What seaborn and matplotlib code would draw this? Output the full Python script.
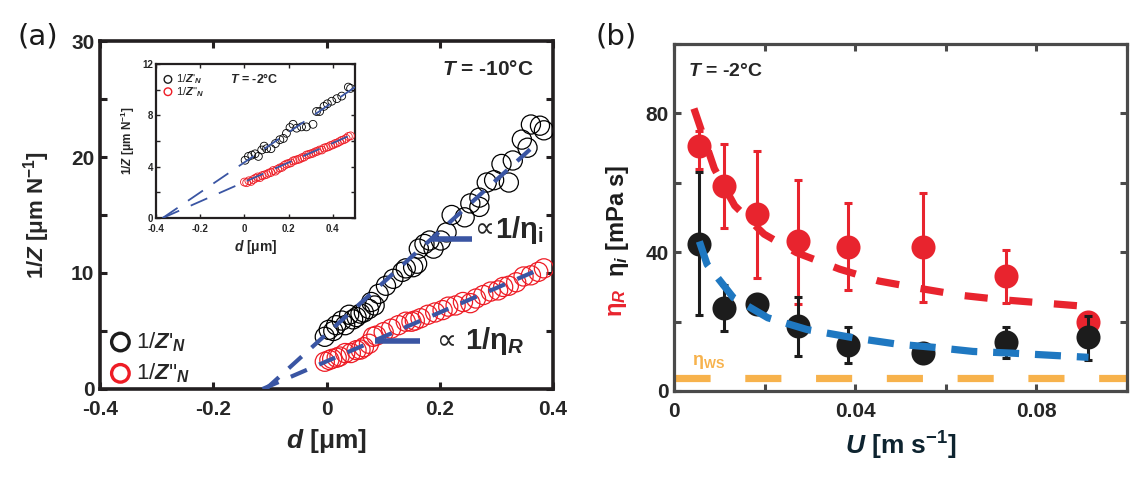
import numpy as np
import pandas as pd
import matplotlib
matplotlib.use("Agg")
import matplotlib.pyplot as plt
from matplotlib.ticker import FixedLocator, FuncFormatter
import seaborn as sns

# ---------------- data: panel (a) main, T = -10 C ----------------
d_black = [-0.003, 0.004, 0.012, 0.017, 0.027, 0.033, 0.040, 0.047, 0.053, 0.060, 0.066, 0.075,
           0.079, 0.085, 0.092, 0.105, 0.118, 0.134, 0.140, 0.153, 0.160, 0.163, 0.173, 0.182,
           0.189, 0.202, 0.212, 0.221, 0.244, 0.254, 0.270, 0.270, 0.283, 0.296, 0.309, 0.322,
           0.329, 0.345, 0.355, 0.361, 0.377, 0.384]
z_black = [4.5, 5.1, 5.0, 5.5, 5.9, 5.5, 6.4, 6.0, 6.2, 6.5, 6.6, 6.9,
           7.5, 7.2, 8.2, 8.9, 9.5, 10.1, 10.4, 10.5, 10.8, 12.1, 12.5, 12.8,
           12.1, 12.8, 13.5, 15.0, 14.8, 16.0, 15.7, 16.5, 17.8, 18.0, 19.4, 17.8,
           19.7, 21.5, 20.8, 22.8, 22.7, 22.3]
d_red = [-0.003, 0.005, 0.010, 0.018, 0.023, 0.033, 0.043, 0.053, 0.060, 0.066, 0.075, 0.082,
         0.088, 0.101, 0.114, 0.127, 0.140, 0.150, 0.156, 0.166, 0.179, 0.192, 0.205, 0.215,
         0.228, 0.241, 0.254, 0.264, 0.277, 0.290, 0.303, 0.312, 0.322, 0.335, 0.348, 0.361,
         0.374, 0.384]
z_red = [2.35, 2.5, 2.6, 2.7, 2.8, 3.1, 3.1, 3.35, 3.4, 3.6, 3.9, 4.5,
         4.6, 4.9, 5.2, 5.5, 5.8, 5.8, 5.9, 6.1, 6.4, 6.6, 6.8, 7.1,
         7.2, 7.5, 7.4, 7.8, 8.1, 8.4, 8.5, 8.8, 8.9, 9.2, 9.7, 9.8,
         10.1, 10.4]
fit_d_black = [-0.107, 0.365]
fit_z_black = [0.0, 20.9]
fit_d_red = [-0.113, 0.385]
fit_z_red = [0.0, 10.5]

# ---------------- data: panel (a) inset, T = -2 C ----------------
di_black = [0.003, 0.018, 0.033, 0.048, 0.063, 0.078, 0.089, 0.100, 0.120, 0.140, 0.160, 0.176,
            0.190, 0.206, 0.220, 0.236, 0.258, 0.280, 0.310, 0.326, 0.340, 0.360, 0.375, 0.395,
            0.418, 0.440, 0.470, 0.480]
zi_black = [4.5, 4.8, 4.9, 5.0, 4.8, 5.3, 5.6, 5.4, 5.4, 5.8, 6.1, 6.2,
            6.6, 7.05, 7.3, 7.0, 7.1, 7.1, 7.3, 8.3, 8.3, 8.7, 8.9, 9.1,
            9.3, 9.5, 10.2, 10.1]
di_red = [0.00, 0.01, 0.02, 0.03, 0.04, 0.05, 0.06, 0.07, 0.08, 0.09, 0.10, 0.11, 0.12, 0.13,
          0.14, 0.15, 0.16, 0.17, 0.18, 0.19, 0.20, 0.21, 0.22, 0.23, 0.24, 0.25, 0.26, 0.27,
          0.28, 0.29, 0.30, 0.31, 0.32, 0.33, 0.34, 0.35, 0.36, 0.37, 0.38, 0.39, 0.40, 0.41,
          0.42, 0.43, 0.44, 0.45, 0.46, 0.47, 0.48]
zi_red = [2.8, 2.75, 2.9, 2.85, 3.0, 3.1, 3.2, 3.15, 3.3, 3.35, 3.4, 3.5, 3.55, 3.7,
          3.65, 3.8, 3.9, 3.95, 4.1, 4.2, 4.25, 4.3, 4.45, 4.5, 4.55, 4.6, 4.7, 4.75,
          4.9, 4.95, 5.0, 5.05, 5.15, 5.2, 5.3, 5.3, 5.45, 5.5, 5.55, 5.65, 5.7, 5.8,
          5.85, 5.95, 6.05, 6.1, 6.2, 6.35, 6.4]
fiti_d = [-0.37, 0.5]
fiti_black = [0.0, 10.2]
fiti_red = [0.0, 6.6]

# ---------------- data: panel (b), T = -2 C ----------------
U = [0.0056, 0.0110, 0.0183, 0.0274, 0.0384, 0.0549, 0.0732, 0.0915]
eta_R = [70.5, 59.0, 51.0, 43.1, 41.6, 41.4, 33.0, 19.9]
eta_R_lo = [6.5, 12.1, 18.3, 18.0, 12.6, 15.8, 7.7, 0.0]
eta_R_hi = [4.5, 12.1, 18.2, 17.8, 12.5, 15.6, 7.7, 0.0]
eta_i = [42.5, 24.0, 25.1, 18.6, 13.3, 10.9, 14.1, 15.5]
eta_i_lo = [20.7, 6.8, 0.0, 8.6, 5.1, 0.0, 4.6, 6.5]
eta_i_hi = [20.5, 6.5, 0.0, 8.5, 5.1, 0.0, 4.3, 6.0]
fitU_R = [0.0044, 0.0089, 0.0134, 0.0199, 0.0270, 0.0366, 0.0452, 0.0541, 0.0632, 0.0724, 0.0811, 0.0907]
fit_eta_R = [81.4, 64.1, 53.4, 45.2, 39.9, 35.1, 31.7, 29.6, 27.6, 26.3, 25.4, 24.4]
fitU_i = [0.0056, 0.0073, 0.0131, 0.0207, 0.0294, 0.0398, 0.0493, 0.0573, 0.0660, 0.0748, 0.0915]
fit_eta_i = [43.1, 36.5, 26.9, 21.1, 17.7, 15.3, 13.5, 12.6, 11.4, 10.9, 9.7]
eta_ws_U = [0.0, 0.1]
eta_ws = [3.8, 3.8]

# ---------------- style ----------------
sns.set_theme(style="ticks")
plt.rcParams["font.family"] = ["Liberation Sans", "DejaVu Sans"]
plt.rcParams["mathtext.fontset"] = "custom"
plt.rcParams["mathtext.rm"] = "Liberation Sans:bold"
plt.rcParams["mathtext.it"] = "Liberation Sans:italic:bold"
plt.rcParams["mathtext.bf"] = "Liberation Sans:bold"

RED = "#e8242e"
BLK = "#1c1c1c"
FITBLUE = "#3a55a3"
BBLUE = "#1f78c1"
ORANGE = "#f7b24c"

W, H = 1148, 486
fig = plt.figure(figsize=(W / 100, H / 100), dpi=100)


def rect(l, r, t, b):
    return [l / W, 1 - b / H, (r - l) / W, (b - t) / H]


def fmt(v):
    return f"{v:g}"


def style_axes(ax, xt, xl, yt, yl, lw, col, size, length, tw):
    for s in ax.spines.values():
        s.set_linewidth(lw)
        s.set_color(col)
    ax.xaxis.set_major_locator(FixedLocator(xt))
    ax.yaxis.set_major_locator(FixedLocator(yt))
    ax.xaxis.set_major_formatter(FuncFormatter(lambda v, p: fmt(v) if any(abs(v - q) < 1e-9 for q in xl) else ""))
    ax.yaxis.set_major_formatter(FuncFormatter(lambda v, p: fmt(v) if any(abs(v - q) < 1e-9 for q in yl) else ""))
    ax.tick_params(direction="in", top=True, right=True, length=length, width=tw,
                   color=col, labelsize=size, pad=4)
    for lab in ax.get_xticklabels() + ax.get_yticklabels():
        lab.set_fontweight("bold")


# ================= panel (a) =================
axa = fig.add_axes(rect(100, 553, 41, 389))
sns.scatterplot(x=d_black, y=z_black, ax=axa, marker="o", s=190, linewidth=0.9,
                edgecolor="black", facecolor="none", zorder=3)
axa.collections[-1].set_facecolor("none")
sns.scatterplot(x=d_red, y=z_red, ax=axa, marker="o", s=190, linewidth=0.9,
                edgecolor="#ee1c25", facecolor="none", zorder=3)
axa.collections[-1].set_facecolor("none")
for fx, fz in [(fit_d_black, fit_z_black), (fit_d_red, fit_z_red)]:
    sns.lineplot(x=fx, y=fz, ax=axa, color=FITBLUE, lw=3.0, zorder=4)
    axa.lines[-1].set_dashes((4.2, 3.2))
    axa.lines[-1].set_dash_capstyle("butt")
# proportionality markers
ann_bar_d = [[0.183, 0.257], [0.086, 0.165]]
ann_bar_z = [12.93, 4.14]
for bd, bz in zip(ann_bar_d, ann_bar_z):
    axa.plot(bd, [bz, bz], color=FITBLUE, lw=4.0, solid_capstyle="butt", zorder=5)
axa.text(0.262, 13.75, "∝", fontsize=20, family=["DejaVu Sans"], va="center", ha="left")
axa.text(0.298, 13.75, "1/η$_{\\mathrm{i}}$", fontsize=21, fontweight="bold", va="center", ha="left")
axa.text(0.195, 4.1, "∝", fontsize=20, family=["DejaVu Sans"], va="center", ha="left")
axa.text(0.245, 4.1, "1/η$_{R}$", fontsize=21, fontweight="bold", va="center", ha="left")
axa.set_xlim(-0.4, 0.4)
axa.set_ylim(0, 30)
style_axes(axa, [-0.4, -0.2, 0, 0.2, 0.4], [-0.4, -0.2, 0, 0.2, 0.4],
           [0, 5, 10, 15, 20, 25, 30], [0, 10, 20, 30], 2.6, "#231f20", 15, 5, 2.2)
axa.tick_params(axis="x", pad=8)
axa.set_xlabel("$d$ [μm]", fontsize=19, fontweight="bold", labelpad=6)
axa.set_ylabel("1/$Z$ [μm N$^{-1}$]", fontsize=16, fontweight="bold", labelpad=14)
axa.text(0.956, 0.917, "$T$ = -10°C", transform=axa.transAxes, ha="right", va="center",
         fontsize=15, fontweight="bold")
# legend
axa.scatter([0.045], [0.135], transform=axa.transAxes, s=160, facecolor="none",
            edgecolor=BLK, linewidth=2.4, clip_on=False)
axa.scatter([0.045], [0.045], transform=axa.transAxes, s=160, facecolor="none",
            edgecolor="#ee1c25", linewidth=2.4, clip_on=False)
axa.text(0.08, 0.135, "1/$Z$'$_{N}$", transform=axa.transAxes, fontsize=16, va="center")
axa.text(0.08, 0.045, "1/$Z$''$_{N}$", transform=axa.transAxes, fontsize=16, va="center")

# ================= inset =================
axi = fig.add_axes(rect(156, 355, 64, 218))
sns.scatterplot(x=di_black, y=zi_black, ax=axi, marker="o", s=32, linewidth=0.6,
                edgecolor="black", facecolor="none", zorder=3)
axi.collections[-1].set_facecolor("none")
sns.scatterplot(x=di_red, y=zi_red, ax=axi, marker="o", s=32, linewidth=0.6,
                edgecolor="#ee1c25", facecolor="none", zorder=3)
axi.collections[-1].set_facecolor("none")
for fz in [fiti_black, fiti_red]:
    sns.lineplot(x=fiti_d, y=fz, ax=axi, color=FITBLUE, lw=1.3, zorder=4)
    axi.lines[-1].set_dashes((10, 7))
axi.set_xlim(-0.4, 0.5)
axi.set_ylim(0, 12)
style_axes(axi, [-0.4, -0.2, 0, 0.2, 0.4], [-0.4, -0.2, 0, 0.2, 0.4],
           [0, 2, 4, 6, 8, 10, 12], [0, 4, 8, 12], 1.6, "#231f20", 7, 3, 1.0)
axi.tick_params(axis="y", pad=2)
axi.tick_params(axis="x", pad=4)
axi.set_xlabel("$d$ [μm]", fontsize=10, fontweight="bold", labelpad=3)
axi.set_ylabel("1/$Z$ [μm N$^{-1}$]", fontsize=8.5, fontweight="bold", labelpad=4)
axi.scatter([0.06], [0.9], transform=axi.transAxes, s=30, facecolor="none",
            edgecolor=BLK, linewidth=1.0)
axi.scatter([0.06], [0.82], transform=axi.transAxes, s=30, facecolor="none",
            edgecolor="#ee1c25", linewidth=1.0)
axi.text(0.1, 0.9, "1/$Z$'$_{N}$", transform=axi.transAxes, fontsize=8, va="center")
axi.text(0.1, 0.82, "1/$Z$''$_{N}$", transform=axi.transAxes, fontsize=8, va="center")
axi.text(0.37, 0.9, "$T$ = -2°C", transform=axi.transAxes, fontsize=9, va="center",
         fontweight="bold")

# ================= panel (b) =================
axb = fig.add_axes(rect(674, 1127, 44, 391))
sns.lineplot(x=eta_ws_U, y=eta_ws, ax=axb, color=ORANGE, lw=5.2, zorder=1)
axb.lines[-1].set_dashes((5.0, 4.8))
axb.lines[-1].set_dash_capstyle("butt")
axb.errorbar(U, eta_R, yerr=[eta_R_lo, eta_R_hi], fmt="none", ecolor=RED, elinewidth=2.2,
             capsize=3, capthick=2.2, zorder=2)
sns.scatterplot(x=U, y=eta_R, ax=axb, color=RED, s=300, linewidth=0, zorder=3)
axb.errorbar(U, eta_i, yerr=[eta_i_lo, eta_i_hi], fmt="none", ecolor=BLK, elinewidth=2.2,
             capsize=3, capthick=2.2, zorder=4)
sns.scatterplot(x=U, y=eta_i, ax=axb, color=BLK, s=300, linewidth=0, zorder=5)
sns.lineplot(x=fitU_R, y=fit_eta_R, ax=axb, color=RED, lw=5.2, zorder=6)
axb.lines[-1].set_dashes((3.2, 3.0))
axb.lines[-1].set_dash_capstyle("butt")
sns.lineplot(x=fitU_i, y=fit_eta_i, ax=axb, color=BBLUE, lw=5.2, zorder=6)
axb.lines[-1].set_dashes((3.6, 2.2))
axb.lines[-1].set_dash_capstyle("butt")
axb.text(0.004, 8.5, "η$_{\\mathrm{WS}}$", color=ORANGE, fontsize=13, fontweight="bold",
         va="center", ha="left")
axb.set_xlim(0, 0.1)
axb.set_ylim(0, 100)
style_axes(axb, [0, 0.02, 0.04, 0.06, 0.08, 0.1], [0, 0.04, 0.08],
           [0, 20, 40, 60, 80, 100], [0, 40, 80], 2.3, "#4a4a4a", 15, 5, 2.2)
axb.tick_params(axis="x", pad=8)
axb.set_xlabel("$U$ [m s$^{-1}$]", fontsize=19, fontweight="bold", color="#0e2430", labelpad=6)
axb.set_ylabel("")
axb.text(-0.124, 0.49, "η$_{i}$ [mPa s]", transform=axb.transAxes, rotation=90,
         fontsize=17, fontweight="bold", ha="center", va="center", color=BLK)
axb.text(-0.124, 0.255, "η$_{R}$", transform=axb.transAxes, rotation=90,
         fontsize=17, fontweight="bold", ha="center", va="center", color=RED)
axb.text(0.03, 0.92, "$T$ = -2°C", transform=axb.transAxes, fontsize=14,
         fontweight="bold", va="center", ha="left")

fig.text(18 / W, 1 - 37 / H, "(a)", fontsize=21, va="center", ha="left",
         family=["DejaVu Sans"], color="#1a1a1a")
fig.text(596 / W, 1 - 37 / H, "(b)", fontsize=21, va="center", ha="left",
         family=["DejaVu Sans"], color="#1a1a1a")

fig.savefig("out.png", dpi=100)
